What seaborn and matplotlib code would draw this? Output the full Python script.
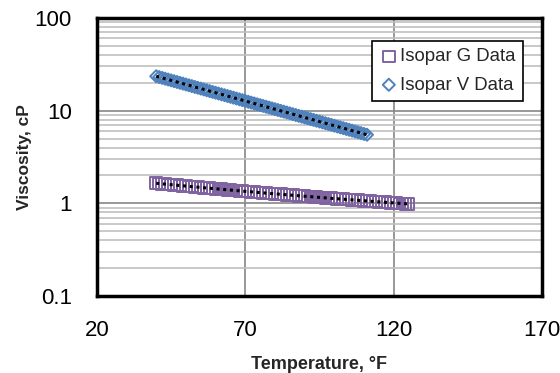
import pandas as pd
import matplotlib
matplotlib.use('Agg')
import matplotlib.pyplot as plt
import seaborn as sns
from matplotlib.ticker import LogLocator, FixedLocator, FuncFormatter, NullFormatter

sns.set_style('white')
plt.rcParams['font.family'] = ['Liberation Sans', 'DejaVu Sans']

# Isopar G viscosity data (temperature in F, viscosity in cP)
g_temp = list(range(40, 126))
g_visc = [1.648, 1.637, 1.625, 1.614, 1.603, 1.592, 1.581, 1.570, 1.559, 1.549,
          1.538, 1.528, 1.517, 1.507, 1.497, 1.487, 1.477, 1.467, 1.458, 1.448,
          1.439, 1.429, 1.420, 1.411, 1.402, 1.393, 1.384, 1.375, 1.367, 1.358,
          1.349, 1.341, 1.333, 1.324, 1.316, 1.308, 1.300, 1.292, 1.284, 1.276,
          1.269, 1.261, 1.254, 1.246, 1.239, 1.231, 1.224, 1.217, 1.210, 1.202,
          1.195, 1.189, 1.182, 1.175, 1.168, 1.161, 1.155, 1.148, 1.142, 1.135,
          1.129, 1.122, 1.116, 1.110, 1.104, 1.098, 1.092, 1.086, 1.080, 1.074,
          1.068, 1.062, 1.057, 1.051, 1.045, 1.040, 1.034, 1.029, 1.023, 1.018,
          1.013, 1.007, 1.002, 0.997, 0.992, 0.987]

# Isopar V viscosity data
v_temp = list(range(40, 112))
v_visc = [23.50, 23.02, 22.56, 22.10, 21.66, 21.22, 20.79, 20.37, 19.95, 19.55,
          19.15, 18.77, 18.39, 18.01, 17.65, 17.29, 16.94, 16.60, 16.26, 15.93,
          15.61, 15.29, 14.98, 14.68, 14.38, 14.09, 13.81, 13.53, 13.25, 12.99,
          12.72, 12.46, 12.21, 11.96, 11.72, 11.48, 11.25, 11.02, 10.80, 10.58,
          10.37, 10.16, 9.95, 9.75, 9.55, 9.36, 9.17, 8.98, 8.80, 8.62,
          8.45, 8.28, 8.11, 7.95, 7.79, 7.63, 7.47, 7.32, 7.17, 7.03,
          6.89, 6.75, 6.61, 6.48, 6.35, 6.22, 6.09, 5.97, 5.85, 5.73,
          5.61, 5.50]

g_df = pd.DataFrame({'temp': g_temp, 'visc': g_visc})
v_df = pd.DataFrame({'temp': v_temp, 'visc': v_visc})

fig, ax = plt.subplots(figsize=(5.6, 3.73), dpi=100)
fig.subplots_adjust(left=0.173, right=0.968, top=0.952, bottom=0.206)

ax.set_yscale('log')
ax.set_xlim(20, 170)
ax.set_ylim(0.1, 100)

# grid
ax.yaxis.set_major_locator(LogLocator(base=10, numticks=10))
ax.yaxis.set_minor_locator(LogLocator(base=10, subs=range(2, 10), numticks=50))
ax.yaxis.set_minor_formatter(NullFormatter())
ax.yaxis.set_major_formatter(FuncFormatter(lambda v, p: '{:g}'.format(v)))
ax.xaxis.set_major_locator(FixedLocator([20, 70, 120, 170]))
ax.grid(which='major', axis='both', color='#868686', lw=1.2)
ax.grid(which='minor', axis='y', color='#c0c0c0', lw=1.2)
ax.set_axisbelow(True)

sns.scatterplot(data=g_df, x='temp', y='visc', marker='s', s=70, facecolor='none',
                edgecolor='#8064A2', linewidth=1.4, label='Isopar G Data', ax=ax, zorder=3)
sns.scatterplot(data=v_df, x='temp', y='visc', marker='D', s=38, facecolor='none',
                edgecolor='#4F81BD', linewidth=1.4, label='Isopar V Data', ax=ax, zorder=3)
# model curves (dashed black)
sns.lineplot(data=g_df, x='temp', y='visc', color='black', lw=2.2, ax=ax,
             linestyle=(0, (1.0, 1.2)), legend=False, zorder=4)
sns.lineplot(data=v_df, x='temp', y='visc', color='black', lw=2.2, ax=ax,
             linestyle=(0, (1.0, 1.2)), legend=False, zorder=4)

for sp in ax.spines.values():
    sp.set_color('black')
    sp.set_linewidth(2.5)

ax.tick_params(axis='both', which='both', length=0, labelsize=16, colors='black')
ax.tick_params(axis='y', pad=18)
ax.tick_params(axis='x', pad=17)
ax.set_xlabel('Temperature, °F', fontsize=13, fontweight='bold', labelpad=11)
ax.set_ylabel('Viscosity, cP', fontsize=12.5, fontweight='bold', labelpad=2)

leg = ax.legend(loc='upper right', bbox_to_anchor=(0.957, 0.917), fontsize=13.4,
                frameon=True, fancybox=False, edgecolor='black', framealpha=1,
                borderpad=0.4, handletextpad=0.1, handlelength=1.0, labelspacing=0.6,
                borderaxespad=0)
leg.get_frame().set_linewidth(1.2)

fig.savefig('out.png', dpi=100)
